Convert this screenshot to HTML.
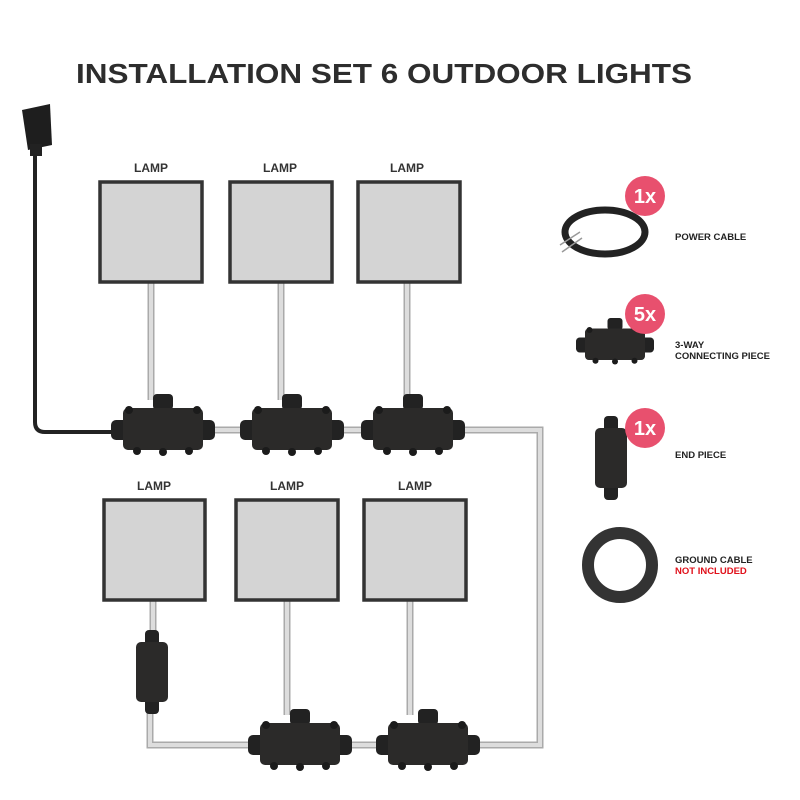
<!DOCTYPE html>
<html><head><meta charset="utf-8"><style>
body{margin:0;background:#fff}
svg{display:block}
text{font-family:"Liberation Sans",sans-serif;font-weight:bold}
</style></head><body>
<svg width="800" height="800" viewBox="0 0 800 800" xmlns="http://www.w3.org/2000/svg">
<defs>
<g id="conn">
 <rect x="-10" y="-36" width="20" height="16" rx="4" fill="#222"/>
 <rect x="-52" y="-10" width="18" height="20" rx="5" fill="#222"/>
 <rect x="34" y="-10" width="18" height="20" rx="5" fill="#222"/>
 <rect x="-40" y="-22" width="80" height="42" rx="5" fill="#2b2a29"/>
 <circle cx="-34" cy="-20" r="4" fill="#1b1b1b"/><circle cx="34" cy="-20" r="4" fill="#1b1b1b"/>
 <circle cx="-26" cy="21" r="4" fill="#1b1b1b"/><circle cx="0" cy="22" r="4" fill="#1b1b1b"/><circle cx="26" cy="21" r="4" fill="#1b1b1b"/>
</g>
<g id="endp">
 <rect x="-7" y="-42" width="14" height="16" rx="4" fill="#222"/>
 <rect x="-7" y="26" width="14" height="16" rx="4" fill="#222"/>
 <rect x="-16" y="-30" width="32" height="60" rx="5" fill="#2b2a29"/>
</g>
</defs>
<text x="76" y="83" font-size="28" textLength="616" lengthAdjust="spacingAndGlyphs" fill="#2d2d2d">INSTALLATION SET 6 OUTDOOR LIGHTS</text>

<g fill="none" stroke="#aaa" stroke-width="7">
<path d="M151 283V400M281 283V400M407 283V400M200 430H540V745H150V700M153 600V635M287 600V715M410 600V715"/>
</g>
<g fill="none" stroke="#ddd" stroke-width="4">
<path d="M151 283V400M281 283V400M407 283V400M200 430H540V745H150V700M153 600V635M287 600V715M410 600V715"/>
</g>
<path d="M35 150V422Q35 432 45 432H115" fill="none" stroke="#222" stroke-width="4"/>
<path d="M22 110L50 104L52 145L28 150Z" fill="#1e1e1e"/>
<rect x="30" y="144" width="12" height="12" fill="#222"/>

<g fill="#d4d4d4" stroke="#333" stroke-width="3.5">
<rect x="100" y="182" width="102" height="100"/>
<rect x="230" y="182" width="102" height="100"/>
<rect x="358" y="182" width="102" height="100"/>
<rect x="104" y="500" width="101" height="100"/>
<rect x="236" y="500" width="102" height="100"/>
<rect x="364" y="500" width="102" height="100"/>
</g>
<g font-size="12" fill="#333" text-anchor="middle">
<text x="151" y="172">LAMP</text><text x="280" y="172">LAMP</text><text x="407" y="172">LAMP</text>
<text x="154" y="490">LAMP</text><text x="287" y="490">LAMP</text><text x="415" y="490">LAMP</text>
</g>

<use href="#conn" x="163" y="430"/>
<use href="#conn" x="292" y="430"/>
<use href="#conn" x="413" y="430"/>
<use href="#conn" x="300" y="745"/>
<use href="#conn" x="428" y="745"/>
<use href="#endp" x="152" y="672"/>

<ellipse cx="605" cy="232" rx="40" ry="22" fill="none" stroke="#222" stroke-width="7"/>
<path d="M560 245L580 232M562 252L582 238" stroke="#999" stroke-width="1.5"/>
<use href="#conn" x="615" y="345" transform="translate(615 345) scale(0.75) translate(-615 -345)"/>
<use href="#endp" x="611" y="458"/>
<circle cx="620" cy="565" r="32" fill="none" stroke="#333" stroke-width="12"/>
<g fill="#e8506e"><circle cx="645" cy="196" r="20"/><circle cx="645" cy="314" r="20"/><circle cx="645" cy="428" r="20"/></g>
<g font-size="20" fill="#fff" text-anchor="middle"><text x="645" y="203">1x</text><text x="645" y="321">5x</text><text x="645" y="435">1x</text></g>
<g font-size="9.5" fill="#222">
<text x="675" y="240">POWER CABLE</text>
<text x="675" y="348">3-WAY</text><text x="675" y="359">CONNECTING PIECE</text>
<text x="675" y="458">END PIECE</text>
<text x="675" y="563">GROUND CABLE</text>
<text x="675" y="574" fill="#e0101a">NOT INCLUDED</text>
</g>
</svg>
</body></html>
